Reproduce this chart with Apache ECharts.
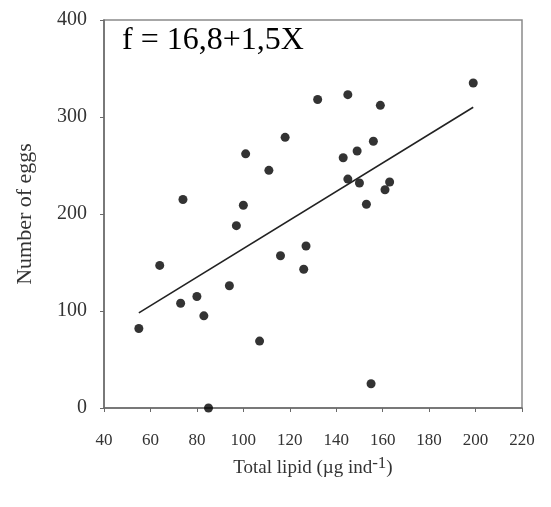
<!DOCTYPE html>
<html><head><meta charset="utf-8">
<script src="https://cdn.jsdelivr.net/npm/echarts@6/dist/echarts.min.js"></script>
<style>html,body{margin:0;padding:0;background:#fff}#c{width:551px;height:507px}</style>
</head><body><div id="c"></div>
<script>
const lipid = [55,64,73,74,80,83,85,94,97,100,101,107,111,116,118,126,127,132,143,145,145,149,150,153,155,156,159,161,163,199];
const eggs  = [82,147,108,215,115,95,0,126,188,209,262,69,245,157,279,143,167,318,258,323,236,265,232,210,25,275,312,225,233,335];
const fitX = [55,199];
const fitY = [98,310];
const xTicks = [40,60,80,100,120,140,160,180,200,220];
const yTicks = [0,100,200,300,400];
const equation = 'f = 16,8+1,5X';

const serif = '"Liberation Serif", "DejaVu Serif", serif';
const chart = echarts.init(document.getElementById('c'));
chart.setOption({
  animation:false,
  backgroundColor:'#fff',
  grid:{left:104, right:29, top:20, bottom:99, show:true, borderColor:'#8a8a8a', borderWidth:1.5},
  xAxis:{type:'value', min:xTicks[0], max:xTicks[xTicks.length-1], interval:20,
    axisLine:{lineStyle:{color:'#6a6a6a', width:1.5}},
    axisTick:{inside:false, length:4, lineStyle:{color:'#6a6a6a'}},
    axisLabel:{color:'#333', fontFamily:serif, fontSize:17, margin:24},
    splitLine:{show:false},
    name:'{a|Total lipid (µg ind}{s|-1}{a|)}', nameLocation:'middle', nameGap:47,
    nameTextStyle:{rich:{a:{fontFamily:serif, fontSize:19, color:'#333'}, s:{fontFamily:serif, fontSize:17, color:'#333', verticalAlign:'top', padding:[0,0,9,0]}}}
  },
  yAxis:{type:'value', min:yTicks[0], max:yTicks[yTicks.length-1], interval:100,
    axisLine:{show:true, lineStyle:{color:'#6a6a6a', width:1.5}},
    axisTick:{show:true, inside:false, length:4, lineStyle:{color:'#6a6a6a'}},
    axisLabel:{color:'#333', fontFamily:serif, fontSize:20, margin:17},
    splitLine:{show:false},
    name:'Number of eggs', nameLocation:'middle', nameGap:68,
    nameTextStyle:{fontFamily:serif, fontSize:22, color:'#333'}
  },
  graphic:[{type:'text', left:122, top:25, style:{text:equation, font:'32px '+serif, fill:'#000'}}],
  series:[
    {type:'scatter', data:lipid.map((v,i)=>[v,eggs[i]]), symbolSize:9, itemStyle:{color:'#000'}},
    {type:'line', data:fitX.map((v,i)=>[v,fitY[i]]), symbol:'none', lineStyle:{color:'#222', width:1.6}}
  ]
});
</script></body></html>
